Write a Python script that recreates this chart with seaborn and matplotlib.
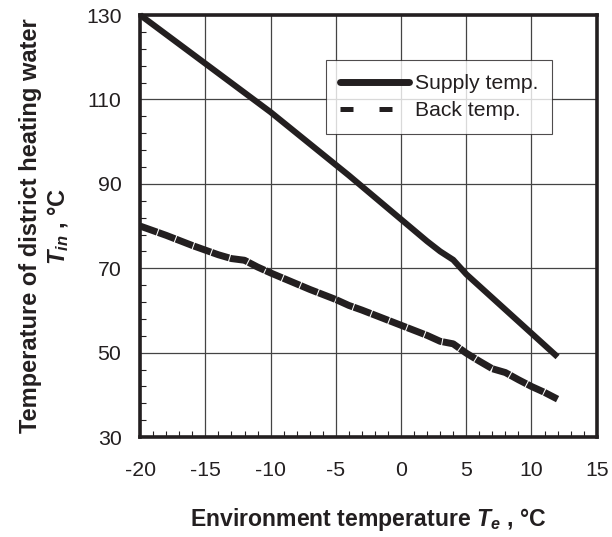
import numpy as np
import pandas as pd
import seaborn as sns
import matplotlib.pyplot as plt
from matplotlib.lines import Line2D

# data
env_temp = [-20, -19, -18, -17, -16, -15, -14, -13, -12, -11, -10, -9, -8, -7, -6, -5,
            -4, -3, -2, -1, 0, 1, 2, 3, 4, 5, 6, 7, 8, 9, 10, 11, 12]
supply_temp = [130, 127.7, 125.4, 123.1, 120.8, 118.5, 116.2, 113.9, 111.6, 109.3, 107,
               104.5, 102, 99.5, 97, 94.5, 92, 89.4, 86.8, 84.2, 81.6, 79, 76.4, 74, 72,
               68.6, 65.8, 63, 60.2, 57.4, 54.6, 51.8, 49]
back_temp = [80, 78.9, 77.8, 76.6, 75.4, 74.3, 73.2, 72.3, 71.9, 70.3, 68.9, 67.6, 66.3,
             65.0, 63.8, 62.6, 61.2, 60.1, 58.9, 57.7, 56.5, 55.3, 54.1, 52.7, 52.1, 49.9,
             48.0, 46.2, 45.3, 43.6, 42.0, 40.6, 39]
series_names = ['Supply temp.', 'Back temp.']
x_ticks = [-20, -15, -10, -5, 0, 5, 10, 15]
y_ticks = [30, 50, 70, 90, 110, 130]

sns.set_style('ticks')
plt.rcParams['font.family'] = ['Liberation Sans', 'DejaVu Sans']
plt.rcParams['axes.unicode_minus'] = False
plt.rcParams['mathtext.fontset'] = 'custom'
plt.rcParams['mathtext.rm'] = 'Liberation Sans:bold'
plt.rcParams['mathtext.it'] = 'Liberation Sans:italic:bold'

ink = '#231f20'
fig = plt.figure(figsize=(6.12, 5.37), dpi=100)
ax = fig.add_axes([0.229, 0.186, 0.746, 0.786])

sns.lineplot(x=env_temp, y=supply_temp, ax=ax, color=ink, lw=4.4,
             solid_capstyle='butt', clip_on=False)
sns.lineplot(x=env_temp, y=back_temp, ax=ax, color=ink, lw=5.0,
             dashes=False, linestyle=(0, (2.6, 0.15)), dash_capstyle='butt')

ax.set_xlim(-20, 15)
ax.set_ylim(30, 130)
ax.set_xticks(x_ticks)
ax.set_xticks(np.arange(-20, 16, 1), minor=True)
ax.set_yticks(y_ticks)
ax.set_yticks(np.arange(30, 131, 4), minor=True)
ax.grid(True, which='major', color='#444444', lw=0.9)
ax.tick_params(which='both', direction='in', labelsize=15.3, colors=ink,
               labelcolor=ink)
ax.tick_params(axis='x', pad=17)
ax.tick_params(axis='y', pad=13.5)
ax.tick_params(which='major', length=0)
ax.tick_params(which='minor', length=4, width=0.8)
for s in ax.spines.values():
    s.set_linewidth(2.6)
    s.set_color(ink)

ax.set_xlabel(r'Environment temperature $T_{e}$ , °C', fontsize=16.6,
              fontweight='bold', labelpad=19, color=ink)
ax.set_ylabel('Temperature of district heating water\n' + r'$T_{in}$ , °C',
              fontsize=17, fontweight='bold', labelpad=11, color=ink,
              linespacing=1.15)

handles = [Line2D([], [], color=ink, lw=5.0),
           Line2D([], [], color=ink, lw=3.6, linestyle=(0, (2.6, 5.2)))]
leg = ax.legend(handles, series_names, loc='upper left',
                bbox_to_anchor=(0.407, 0.893), fontsize=15.2, frameon=True,
                fancybox=False, handlelength=3.3, borderpad=0.65,
                labelspacing=0.4, handletextpad=0.25, borderaxespad=0)
leg.get_frame().set_edgecolor(ink)
leg.get_frame().set_linewidth(0.8)
for t in leg.get_texts():
    t.set_color(ink)

plt.savefig('out.png', dpi=100)
